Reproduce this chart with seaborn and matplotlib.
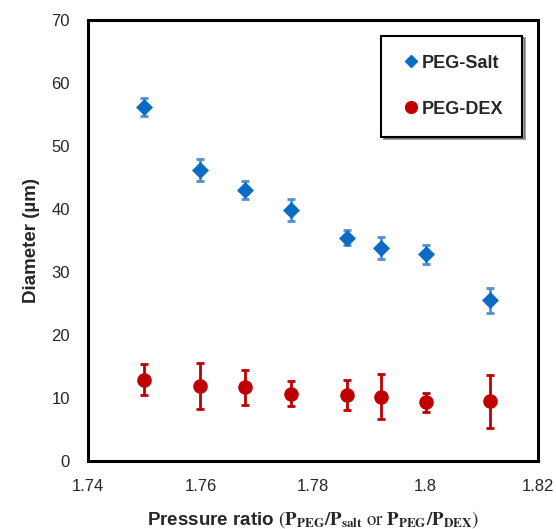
import numpy as np
import pandas as pd
import matplotlib
matplotlib.use("Agg")
import matplotlib.pyplot as plt
import seaborn as sns
from matplotlib.lines import Line2D

# ---------------------------------------------------------------------
# Data
# ---------------------------------------------------------------------
pressure_ratio = [1.750, 1.760, 1.768, 1.776, 1.786, 1.792, 1.800, 1.8115]

salt_diameter = [56.2, 46.2, 43.0, 39.8, 35.4, 33.8, 32.8, 25.5]
salt_err = [1.4, 1.7, 1.4, 1.7, 1.2, 1.7, 1.5, 2.0]

dex_diameter = [12.9, 11.9, 11.7, 10.7, 10.5, 10.2, 9.3, 9.5]
dex_err = [2.5, 3.6, 2.8, 2.0, 2.4, 3.6, 1.5, 4.2]

series_names = ["PEG-Salt", "PEG-DEX"]

df = pd.DataFrame({
    "ratio": pressure_ratio * 2,
    "diameter": salt_diameter + dex_diameter,
    "err": salt_err + dex_err,
    "system": [series_names[0]] * len(pressure_ratio) + [series_names[1]] * len(pressure_ratio),
})

# ---------------------------------------------------------------------
# Plot
# ---------------------------------------------------------------------
sns.set_style("white")
plt.rcParams["font.family"] = ["Liberation Sans", "DejaVu Sans"]
plt.rcParams["mathtext.fontset"] = "stix"

colors = {"PEG-Salt": "#0A6CC4", "PEG-DEX": "#C00000"}
err_colors = {"PEG-Salt": "#4F8FD6", "PEG-DEX": "#C00000"}
markers = {"PEG-Salt": "D", "PEG-DEX": "o"}
sizes = {"PEG-Salt": 75, "PEG-DEX": 110}

fig = plt.figure(figsize=(5.56, 5.29), dpi=100)
ax = fig.add_axes([0.158, 0.1285, 0.810, 0.834])

for name in series_names:
    sub = df[df["system"] == name]
    ax.errorbar(sub["ratio"], sub["diameter"], yerr=sub["err"], fmt="none",
                ecolor=err_colors[name], elinewidth=2, capsize=3, capthick=2, zorder=2)
    sns.scatterplot(data=sub, x="ratio", y="diameter", marker=markers[name],
                    color=colors[name], s=sizes[name], edgecolor=colors[name],
                    linewidth=0, ax=ax, zorder=3, legend=False)

ax.set_xlim(1.74, 1.82)
ax.set_ylim(0, 70)
ax.set_xticks([1.74, 1.76, 1.78, 1.80, 1.82])
ax.set_xticklabels(["1.74", "1.76", "1.78", "1.8", "1.82"])
ax.set_yticks(range(0, 71, 10))
ax.tick_params(axis="both", direction="out", length=5, width=1, color="#444444",
               labelsize=12, pad=8)

for sp in ax.spines.values():
    sp.set_visible(True)
    sp.set_color("black")
    sp.set_linewidth(2.2)

ax.set_ylabel("Diameter (µm)", fontsize=13.5, fontweight="bold", labelpad=8)
ax.set_xlabel(r"Pressure ratio $(\mathbf{P_{PEG}/P_{salt}}\ \mathrm{or}\ \mathbf{P_{PEG}/P_{DEX}})$",
              fontsize=13.5, fontweight="bold", labelpad=11)

handles = [Line2D([], [], marker=markers[n], color=colors[n], linestyle="none",
                  markersize=6.5 if n == "PEG-Salt" else 8.5) for n in series_names]
leg = ax.legend(handles, series_names, loc="upper right", bbox_to_anchor=(0.964, 0.964),
                borderaxespad=0, frameon=True, fancybox=False, shadow=True,
                labelspacing=1.6, borderpad=1.05, handletextpad=0.0, handlelength=1.2,
                prop={"size": 13, "weight": "bold"})
leg.get_frame().set_edgecolor("black")
leg.get_frame().set_linewidth(1.5)

fig.savefig("out.png", dpi=100)
